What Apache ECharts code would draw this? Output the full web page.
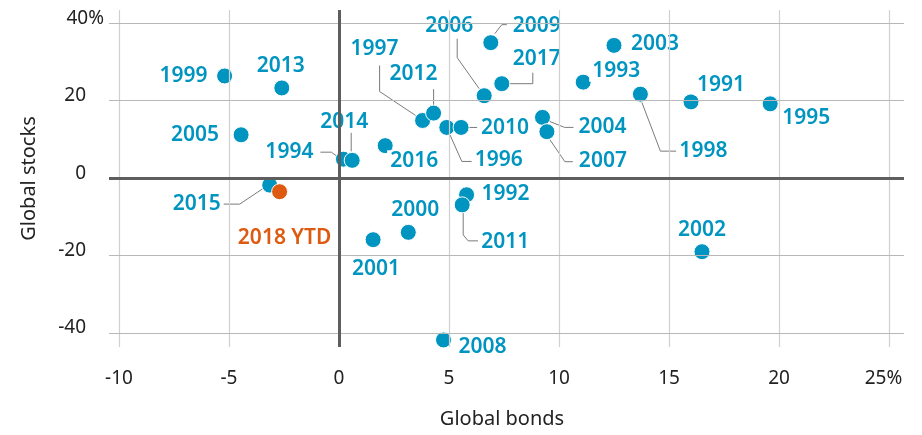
<!DOCTYPE html>
<html>
<head>
<meta charset="utf-8">
<script src="https://cdn.jsdelivr.net/npm/echarts@6/dist/echarts.min.js"></script>
<style>
  html, body { margin: 0; padding: 0; background: #fff; }
  #main { width: 922px; height: 435px; }
</style>
</head>
<body>
<div id="main"></div>
<script>
// annual returns, %
var years = ['1991', '1992', '1993', '1994', '1995', '1996', '1997', '1998', '1999', '2000',
  '2001', '2002', '2003', '2004', '2005', '2006', '2007', '2008', '2009', '2010',
  '2011', '2012', '2013', '2014', '2015', '2016', '2017', '2018 YTD'];
var bonds = [16.0, 5.8, 11.1, 0.2, 19.6, 4.9, 3.8, 13.7, -5.2, 3.15,
  1.55, 16.5, 12.5, 9.25, -4.45, 6.6, 9.45, 4.75, 6.9, 5.55,
  5.6, 4.3, -2.6, 0.6, -3.15, 2.1, 7.4, -2.7];
var stocks = [19.7, -4.3, 24.8, 4.9, 19.2, 13.1, 14.9, 21.7, 26.4, -14.0,
  -15.9, -19.0, 34.3, 15.7, 11.2, 21.3, 12.0, -41.8, 35.0, 13.1,
  -6.9, 16.8, 23.3, 4.6, -1.8, 8.4, 24.4, -3.5];
var xTicks = [-10, -5, 0, 5, 10, 15, 20, 25];
var yTicks = [-40, -20, 0, 20, 40];

var BLUE = '#0094c0';
var ORANGE = '#dd5a10';
var FONT = 'Noto Sans';

// label offset from the dot, px
var labelPos = {
  '1991': [30, -17], '1992': [39, -1], '1993': [33, -11], '1994': [-54, -7],
  '1995': [36, 14], '1996': [52, 33], '1997': [-48, -71], '1998': [63, 57],
  '1999': [-41, 0], '2000': [7, -22], '2001': [3, 29], '2002': [0, -22],
  '2003': [41, -1], '2004': [60, 10], '2005': [-46, 0], '2006': [-35, -70],
  '2007': [56, 29], '2008': [39, 7], '2009': [46, -17], '2010': [44, 1],
  '2011': [43, 37], '2012': [-20, -39], '2013': [-1, -22], '2014': [-8, -38],
  '2015': [-73, 19], '2016': [29, 15], '2017': [35, -25], '2018 YTD': [5, 46]
};
// leader lines, px from the dot
var leaders = {
  '1994': [[-23, -7], [-12, -7], [-4, -1]],
  '1996': [[3, 7], [15, 34], [25, 34]],
  '1997': [[-43, -55], [-43, -29], [-7, -5]],
  '1998': [[1, 7], [20, 57], [36, 57]],
  '2004': [[7, 4], [22, 10], [31, 10]],
  '2006': [[-27, -57], [-27, -38], [-5, -7]],
  '2007': [[3, 8], [18, 30], [26, 30]],
  '2009': [[4, -9], [11, -18], [16, -18]],
  '2010': [[7, 0], [16, 0]],
  '2011': [[1, 7], [1, 30], [6, 36], [16, 36]],
  '2012': [[0, -24], [0, -7]],
  '2014': [[-1, -28], [-1, -9]],
  '2015': [[-48, 19], [-30, 19], [-6, 3]],
  '2017': [[8, 0], [31, 0], [31, -11]]
};

var chart = echarts.init(document.getElementById('main'));

var points = years.map(function (y, i) {
  var item = {
    name: y,
    value: [bonds[i], stocks[i]],
    label: { offset: labelPos[y] }
  };
  if (y === '2018 YTD') {
    item.itemStyle = { color: ORANGE };
    item.label.color = ORANGE;
  }
  return item;
});

var gridMarks = [];
xTicks.forEach(function (v) {
  if (v !== 0) gridMarks.push({ xAxis: v, lineStyle: { color: '#d0d0d0', width: 1.2, type: 'solid' } });
});
yTicks.forEach(function (v) {
  if (v !== 0) gridMarks.push({ yAxis: v, lineStyle: { color: '#b8b8b8', width: 1.2, type: 'solid' } });
});
gridMarks.push({ xAxis: 0, lineStyle: { color: '#5e5e5e', width: 3, type: 'solid' } });
gridMarks.push({ yAxis: 0, lineStyle: { color: '#5e5e5e', width: 3, type: 'solid' } });

var tick = { fontFamily: FONT, fontSize: 19, color: '#222' };

var option = {
  animation: false,
  grid: { left: 109, right: 18, top: 10, bottom: 88 },
  xAxis: {
    type: 'value',
    min: -10.4545,
    max: 25.682,
    name: 'Global bonds',
    nameLocation: 'middle',
    nameGap: 62,
    nameTextStyle: { fontFamily: FONT, fontSize: 20, color: '#222', padding: [0, 9, 0, 0] },
    axisLine: { show: false },
    axisTick: { show: false },
    splitLine: { show: false },
    axisLabel: Object.assign({
      customValues: xTicks,
      margin: 22,
      formatter: function (v) { return v === 25 ? '{q|25%}' : String(v); },
      rich: { q: Object.assign({ padding: [0, 11, 0, 0] }, tick) }
    }, tick)
  },
  yAxis: {
    type: 'value',
    min: -43.62,
    max: 43.44,
    name: 'Global stocks',
    nameLocation: 'middle',
    nameGap: 70,
    nameTextStyle: { fontFamily: FONT, fontSize: 20, color: '#222' },
    axisLine: { show: false },
    axisTick: { show: false },
    splitLine: { show: false },
    axisLabel: Object.assign({
      customValues: yTicks,
      margin: 5,
      formatter: function (v) { return v === 40 ? '{r|40%}' : '{p|' + v + '}'; },
      rich: {
        p: Object.assign({ padding: [0, 18, 10, 0] }, tick),
        r: Object.assign({ padding: [0, 0, 10, 0] }, tick)
      }
    }, tick)
  },
  series: [
    {
      type: 'line',
      data: [],
      z: 1,
      silent: true,
      markLine: {
        silent: true,
        symbol: 'none',
        label: { show: false },
        animation: false,
        data: gridMarks
      }
    },
    {
      type: 'custom',
      z: 2,
      silent: true,
      data: years.map(function (y, i) { return [bonds[i], stocks[i], i]; }),
      renderItem: function (params, api) {
        var path = leaders[years[api.value(2)]];
        if (!path) return;
        var c = api.coord([api.value(0), api.value(1)]);
        return {
          type: 'polyline',
          shape: { points: path.map(function (p) { return [c[0] + p[0], c[1] + p[1]]; }) },
          style: { stroke: '#7a7a7a', lineWidth: 1, fill: null }
        };
      }
    },
    {
      type: 'scatter',
      z: 3,
      symbolSize: 16,
      itemStyle: { color: BLUE, borderColor: '#fff', borderWidth: 1, opacity: 1 },
      label: {
        show: true,
        position: 'inside',
        formatter: '{b}',
        fontFamily: FONT,
        fontSize: 21,
        fontWeight: 600,
        color: BLUE,
        backgroundColor: '#fff',
        padding: [0, 3]
      },
      data: points
    }
  ]
};

chart.setOption(option);
</script>
</body>
</html>
